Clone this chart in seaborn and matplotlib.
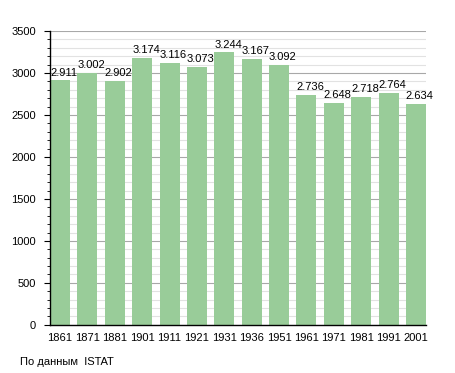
import matplotlib
matplotlib.use("Agg")
import matplotlib.pyplot as plt
from matplotlib.ticker import MultipleLocator
import pandas as pd
import seaborn as sns

years = ["1861", "1871", "1881", "1901", "1911", "1921", "1931",
         "1936", "1951", "1961", "1971", "1981", "1991", "2001"]
population = [2911, 3002, 2902, 3174, 3116, 3073, 3244,
              3167, 3092, 2736, 2648, 2718, 2764, 2634]
source_note = "По данным  ISTAT"

sns.set_style("white")
plt.rcParams['font.family'] = ['Liberation Sans', 'DejaVu Sans']

df = pd.DataFrame({"year": years, "pop": population})
bar_w = 0.73
fs = 8

fig = plt.figure(figsize=(4.55, 3.73), dpi=100)
ax = fig.add_axes([0.110, 0.129, 0.826, 0.788])

sns.barplot(data=df, x="year", y="pop", color="#99cc99", saturation=1,
            width=bar_w, ax=ax, zorder=2, linewidth=0)

ax.set_xlim(-bar_w / 2, len(years) - 1 + bar_w / 2)
ax.set_ylim(0, 3500)
ax.yaxis.set_major_locator(MultipleLocator(500))
ax.yaxis.set_minor_locator(MultipleLocator(100))
ax.set_axisbelow(True)
ax.grid(which='major', axis='y', color='#a8a8a8', linewidth=0.8)
ax.grid(which='minor', axis='y', color='#e2e2e2', linewidth=0.8)
ax.grid(False, axis='x')

for side in ['top', 'right']:
    ax.spines[side].set_visible(False)
for side in ['left', 'bottom']:
    ax.spines[side].set_color('black')
    ax.spines[side].set_linewidth(1.0)

ax.tick_params(axis='y', which='major', left=True, length=4, width=0.8,
               color='black', labelsize=fs, labelcolor='black', pad=6)
ax.tick_params(axis='y', which='minor', left=True, length=2.5, width=0.6,
               color='black')
ax.tick_params(axis='x', bottom=False, labelsize=fs, labelcolor='black', pad=2)
ax.set_xlabel("")
ax.set_ylabel("")

for i, v in enumerate(population):
    label = f"{v:,}".replace(",", ".")
    ax.annotate(label, (i - bar_w / 2, v), xytext=(0, 3.5),
                textcoords='offset points', ha='left', va='baseline',
                fontsize=fs, color='black', zorder=3)

fig.text(20 / 455, 1 - 362 / 373, source_note, fontsize=fs, va='center',
         color='black')

fig.savefig("out.png", dpi=100)
